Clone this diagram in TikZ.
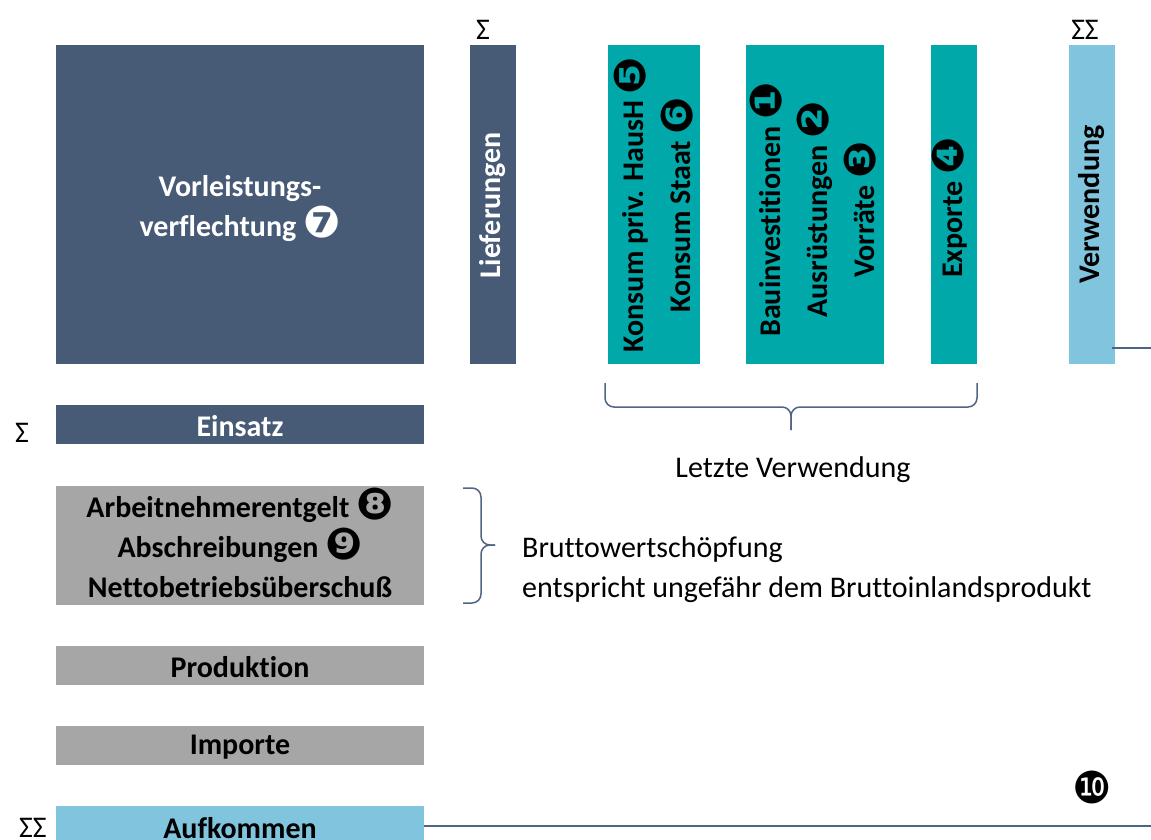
\documentclass[tikz,border=0pt]{standalone}
\usepackage{fontspec}
\setmainfont{Carlito}[Ligatures=CommonOff]
\newfontfamily\dingfont{DejaVu Sans}
\usetikzlibrary{calc}
\definecolor{slate}{HTML}{475B77}
\definecolor{tealbox}{HTML}{00A8A9}
\definecolor{lblue}{HTML}{80C4DE}
\definecolor{lgray}{HTML}{A6A6A6}
\definecolor{linec}{HTML}{4E6583}
\newcommand{\cnplain}[1]{{\dingfont\fontsize{44}{30}\selectfont #1}}
\newcommand{\cn}[1]{\smash{\raisebox{-1.5pt}{\cnplain{#1}}}}
\begin{document}
\begin{tikzpicture}[x=1pt,y=-1pt,
  bx/.style={inner sep=0, outer sep=0, anchor=north west, draw=none},
  lbl/.style={font=\fontsize{30}{40}\selectfont\bfseries, align=center, inner sep=0},
  vlbl/.style={font=\fontsize{30}{47}\selectfont\bfseries, align=center, inner sep=0, rotate=90},
  txt/.style={font=\fontsize{30}{36}\selectfont, inner sep=0},
  conn/.style={draw=linec, line width=2pt},
  bracec/.style={draw=linec, line width=1.5pt, rounded corners=9pt}
]
\useasboundingbox (0,0) rectangle (1151,840);
% boxes
\node[bx, fill=slate, minimum width=368, minimum height=319] (vl) at (56,45) {};
\node[bx, fill=slate, minimum width=46, minimum height=319] (lf) at (470,45) {};
\node[bx, fill=tealbox, minimum width=92, minimum height=319] (ks) at (608,45) {};
\node[bx, fill=tealbox, minimum width=138, minimum height=319] (bi) at (746,45) {};
\node[bx, fill=tealbox, minimum width=46, minimum height=319] (ex) at (931,45) {};
\node[bx, fill=lblue, minimum width=46, minimum height=319] (vw) at (1069,45) {};
\node[bx, fill=slate, minimum width=368, minimum height=39] (es) at (56,405) {};
\node[bx, fill=lgray, minimum width=368, minimum height=119] (bw) at (56,486) {};
\node[bx, fill=lgray, minimum width=368, minimum height=39] (pr) at (56,646) {};
\node[bx, fill=lgray, minimum width=368, minimum height=39] (im) at (56,726) {};
\node[bx, fill=lblue, minimum width=368, minimum height=40] (au) at (56,806) {};
% labels
\node[lbl, text=white] (vlt) at ($(vl.center)+(0,4)$) {Vorleistungs-\\verflechtung \cn{❼}};
\node[vlbl, text=white] (lft) at ($(lf.center)+(0,1)$) {Lieferungen};
\node[vlbl] (kst) at ($(ks.center)+(3,0)$) {Konsum priv. HausH \cn{❺}\\Konsum Staat \cn{❻}};
\node[vlbl] (bit) at ($(bi.center)+(2,5)$) {Bauinvestitionen \cn{❶}\\Ausrüstungen \cn{❷}\\Vorräte \cn{❸}};
\node[vlbl] (ext) at ($(ex.center)+(1,3)$) {Exporte \cn{❹}};
\node[vlbl] (vwt) at ($(vw.center)+(0,0)$) {Verwendung};
\node[lbl, text=white] (est) at ($(es.center)+(0,2)$) {Einsatz};
\node[lbl] (bwt) at ($(bw.center)+(0,2)$) {Arbeitnehmerentgelt \cn{❽}\\Abschreibungen \cn{❾}\\Nettobetriebsüberschuß};
\node[lbl] (prt) at ($(pr.center)+(0,2)$) {Produktion};
\node[lbl] (imt) at ($(im.center)+(0,2)$) {Importe};
\node[lbl] (aut) at ($(au.center)+(0,2)$) {Aufkommen};
% sigma marks
\node[txt] (s1) at (483,30) {Σ};
\node[txt] (s2) at (1085,30) {ΣΣ};
\node[txt] (s3) at (22,433) {Σ};
\node[txt] (s4) at (33,828) {ΣΣ};
\node[txt] (ten) at (1092,787) {\cnplain{❿}};
% brace under final use
\draw[bracec] (605,383) -- (605,407) -- (791,407) -- (791,430);
\draw[bracec] (977,383) -- (977,407) -- (791,407) -- (791,430);
\node[txt] (lv) at (793,470) {Letzte Verwendung};
% brace right of value added
\draw[bracec] (463,488) -- (481,488) -- (481,545) -- (495,545);
\draw[bracec] (463,603) -- (481,603) -- (481,545) -- (495,545);
\node[txt, anchor=west] (bws) at (522,550) {Bruttowertschöpfung};
\node[txt, anchor=west] (bip) at (522,590) {entspricht ungefähr dem Bruttoinlandsprodukt};
% connectors leaving the frame
\coordinate (e1) at (1151,348);
\coordinate (e2) at (1151,826);
\draw[conn] ($(vw.south east)+(-3,-16)$) -- (e1);
\draw[conn] (au.east) -- (e2);
\end{tikzpicture}
\end{document}
